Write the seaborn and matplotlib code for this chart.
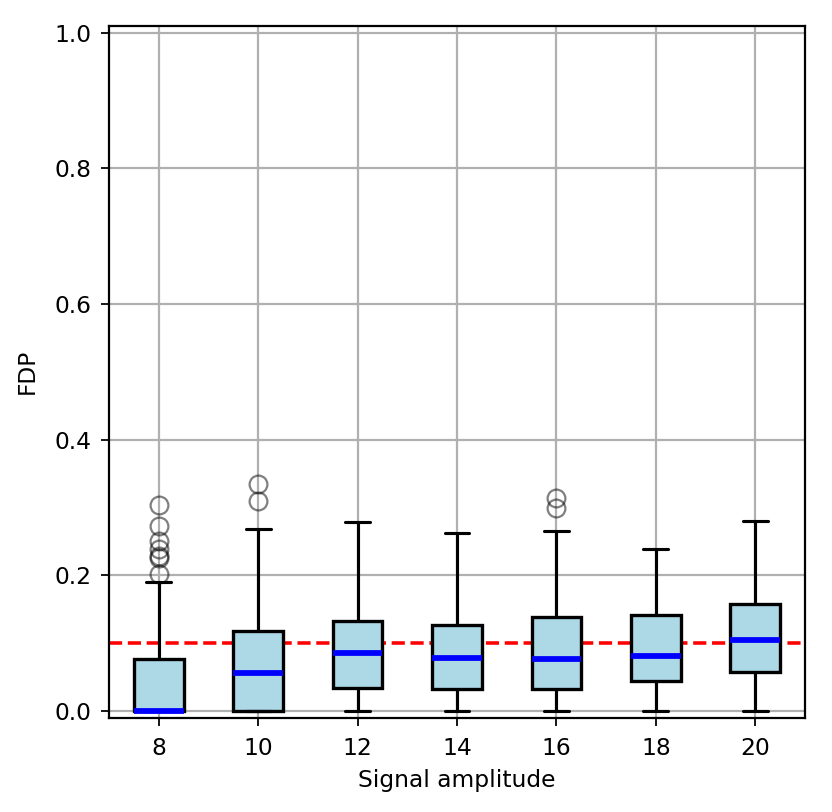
import numpy as np
import seaborn as sns
from matplotlib import pyplot as plt

# box statistics
amplitudes = [8, 10, 12, 14, 16, 18, 20]
q1 = [0.0, 0.0, 0.034, 0.032, 0.032, 0.044, 0.057]
medians = [0.0, 0.056, 0.085, 0.078, 0.076, 0.081, 0.105]
q3 = [0.076, 0.118, 0.133, 0.126, 0.138, 0.141, 0.157]
whisker_low = [0.0, 0.0, 0.0, 0.0, 0.0, 0.0, 0.0]
whisker_high = [0.190, 0.268, 0.279, 0.263, 0.265, 0.239, 0.280]
outliers = [
    [0.303, 0.273, 0.251, 0.239, 0.228, 0.225, 0.202],
    [0.334, 0.310],
    [],
    [],
    [0.314, 0.299],
    [],
    [],
]
target_fdr = 0.1

sns.set_style("ticks", {"axes.edgecolor": "black", "axes.grid": True,
                        "grid.color": "#b0b0b0", "xtick.bottom": True,
                        "ytick.left": True, "text.color": "black",
                        "axes.labelcolor": "black", "xtick.color": "black",
                        "ytick.color": "black"})
plt.rcParams["font.family"] = ["DejaVu Sans"]
plt.rcParams["font.size"] = 10.5

fig = plt.figure(figsize=(5.2, 5.075), dpi=160)
ax = fig.add_axes([0.131, 0.1161, 0.8365, 0.8519])

# target line first so the boxes sit on top of it
ax.axhline(target_fdr, color="red", linestyle="--", linewidth=1.6)

stats = []
for i, amp in enumerate(amplitudes):
    stats.append({
        "label": str(amp),
        "q1": q1[i], "med": medians[i], "q3": q3[i],
        "whislo": whisker_low[i], "whishi": whisker_high[i],
        "fliers": np.array(outliers[i]),
    })

ax.bxp(stats, positions=range(1, len(amplitudes) + 1), widths=0.5,
       patch_artist=True,
       boxprops=dict(facecolor="lightblue", edgecolor="black", linewidth=1.5),
       medianprops=dict(color="blue", linewidth=2.6),
       whiskerprops=dict(color="black", linewidth=1.4),
       capprops=dict(color="black", linewidth=1.4),
       flierprops=dict(marker="o", markerfacecolor="none",
                       markeredgecolor="black", alpha=0.5, markersize=8))

ax.set_xlim(0.5, 7.5)
ax.set_ylim(-0.01, 1.01)
ax.set_yticks([0.0, 0.2, 0.4, 0.6, 0.8, 1.0])
ax.grid(True, color="#b0b0b0", linewidth=1.0)
ax.set_axisbelow(True)
ax.tick_params(axis="x", pad=5, labelsize=10.5)
ax.tick_params(axis="y", pad=4.5, labelsize=10.5)
for s in ax.spines.values():
    s.set_linewidth(1.0)
ax.set_xlabel("Signal amplitude", fontsize=10.5, labelpad=4)
ax.set_ylabel("FDP", fontsize=10.5, labelpad=7)

fig.savefig("out.png", dpi=160)
